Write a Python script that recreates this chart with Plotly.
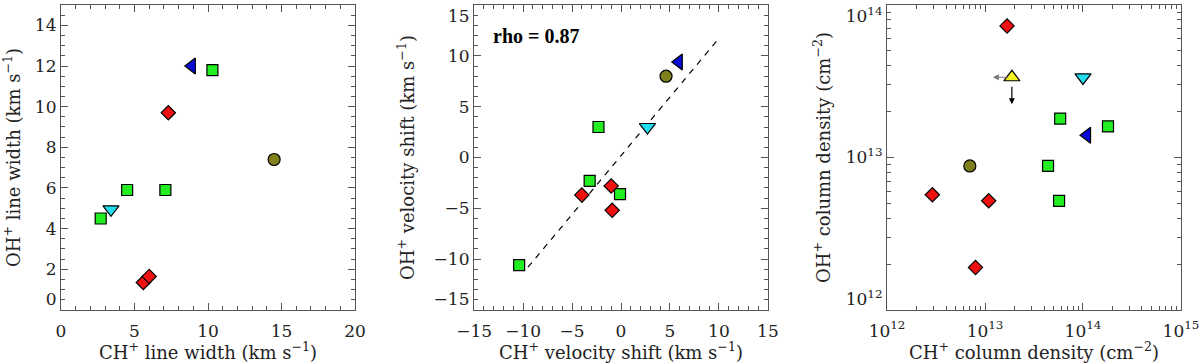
import math
import plotly.graph_objects as go

# ---- data ----
# panel 1: line widths (km/s)
w_sq_x = [2.7, 4.5, 7.1, 10.3]
w_sq_y = [4.5, 5.9, 5.9, 11.8]
w_dia_x = [5.6, 6.0, 7.3]
w_dia_y = [1.35, 1.65, 9.7]
w_blue_x = [8.9]
w_blue_y = [12.0]
w_cyan_x = [3.4]
w_cyan_y = [4.95]
w_olive_x = [14.5]
w_olive_y = [7.4]

# panel 2: velocity shifts (km/s)
v_sq_x = [-10.4, -2.3, -3.2, -0.1]
v_sq_y = [-10.6, 3.0, -2.3, -3.6]
v_dia_x = [-4.0, -1.0, -0.9]
v_dia_y = [-3.7, -2.8, -5.2]
v_blue_x = [5.9]
v_blue_y = [9.4]
v_cyan_x = [2.7]
v_cyan_y = [3.0]
v_olive_x = [4.6]
v_olive_y = [8.0]
fit_x = [-9.5, 9.8]
fit_y = [-10.8, 11.5]
rho_text = "rho = 0.87"

# panel 3: column densities (cm^-2)
n_sq_x = [5.85e13, 1.8e14, 4.4e13, 5.7e13]
n_sq_y = [1.8e13, 1.6e13, 8.8e12, 5.2e12]
n_dia_x = [1.68e13, 2.9e12, 1.09e13, 8.0e12]
n_dia_y = [7.3e13, 5.7e12, 5.2e12, 1.9e12]
n_blue_x = [1.1e14]
n_blue_y = [1.4e13]
n_cyan_x = [1.0e14]
n_cyan_y = [3.35e13]
n_olive_x = [7.0e12]
n_olive_y = [8.8e12]
n_lim_x = [1.88e13]
n_lim_y = [3.36e13]

# tick labels (end labels padded with an empty line so they sit inside the frame)
w_y_ticks = [0, 2, 4, 6, 8, 10, 12, 14]
w_y_text = ["0<br> ", "2", "4", "6", "8", "10", "12", "14"]
v_y_ticks = [-15, -10, -5, 0, 5, 10, 15]
v_y_text = ["−15<br> ", "−10", "−5", "0", "5", "10", "<br>15"]
log_x_ticks = [1e12, 1e13, 1e14, 1e15]
log_x_text = ["10<sup>12</sup>", "10<sup>13</sup>", "10<sup>14</sup>", "10<sup>15</sup>"]
log_y_ticks = [1e12, 1e13, 1e14]
log_y_text = ["10<sup>12</sup><br> ", "10<sup>13</sup>", "<br>10<sup>14</sup>"]

GREEN = "#22ee22"
RED = "#ee1111"
BLUE = "#0a0ad8"
CYAN = "#22ddee"
OLIVE = "#7f7f1c"
YELLOW = "#f4f420"

W, H = 1200, 363
FONT = "DejaVu Serif"

fig = go.Figure()


def mk(x, y, sym, color, size, ax):
    xa = "x" if ax == 1 else f"x{ax}"
    ya = "y" if ax == 1 else f"y{ax}"
    fig.add_trace(go.Scatter(
        x=x, y=y, mode="markers", xaxis=xa, yaxis=ya, showlegend=False,
        cliponaxis=False, hoverinfo="skip",
        marker=dict(symbol=sym, color=color, size=size,
                    line=dict(color="black", width=1.2)),
    ))


SQ, DIA, TRI, CIR = 11, 11, 14, 12

mk(w_sq_x, w_sq_y, "square", GREEN, SQ, 1)
mk(w_dia_x, w_dia_y, "diamond", RED, DIA, 1)
mk(w_blue_x, w_blue_y, "triangle-left", BLUE, TRI, 1)
mk(w_cyan_x, w_cyan_y, "triangle-down", CYAN, TRI, 1)
mk(w_olive_x, w_olive_y, "circle", OLIVE, CIR, 1)

fig.add_trace(go.Scatter(x=fit_x, y=fit_y, mode="lines", xaxis="x2", yaxis="y2",
                         showlegend=False, hoverinfo="skip",
                         line=dict(color="black", width=1.2, dash="6px,6px")))
mk(v_sq_x, v_sq_y, "square", GREEN, SQ, 2)
mk(v_dia_x, v_dia_y, "diamond", RED, DIA, 2)
mk(v_blue_x, v_blue_y, "triangle-left", BLUE, TRI, 2)
mk(v_cyan_x, v_cyan_y, "triangle-down", CYAN, TRI, 2)
mk(v_olive_x, v_olive_y, "circle", OLIVE, CIR, 2)

mk(n_sq_x, n_sq_y, "square", GREEN, SQ, 3)
mk(n_dia_x, n_dia_y, "diamond", RED, DIA, 3)
mk(n_blue_x, n_blue_y, "triangle-left", BLUE, TRI, 3)
mk(n_cyan_x, n_cyan_y, "triangle-down", CYAN, TRI, 3)
mk(n_olive_x, n_olive_y, "circle", OLIVE, CIR, 3)
mk(n_lim_x, n_lim_y, "triangle-up", YELLOW, TRI, 3)

# upper-limit arrows on the yellow point
for lx, ly in zip(n_lim_x, n_lim_y):
    fig.add_annotation(x=math.log10(lx), y=math.log10(ly), xref="x3", yref="y3",
                       text="", showarrow=True, xshift=-19, ax=17, ay=0,
                       arrowhead=2, arrowsize=1, arrowwidth=1.2, arrowcolor="#777777")
    fig.add_annotation(x=math.log10(lx), y=math.log10(ly), xref="x3", yref="y3",
                       text="", showarrow=True, yshift=-27, ax=0, ay=-19,
                       arrowhead=2, arrowsize=1, arrowwidth=1.2, arrowcolor="black")

fig.add_annotation(x=-13.3, y=12.0, xref="x2", yref="y2", text=rho_text,
                   showarrow=False, xanchor="left", yanchor="middle",
                   font=dict(family="Liberation Serif", size=20, color="black", weight="bold"))

# ---- axes ----
ydom = [1 - 310 / H, 1 - 5 / H]
panels = [(61, 355), (474, 768), (887, 1181)]

tickfont = dict(family=FONT, size=17, color="#222")
titlefont = dict(family=FONT, size=18, color="#222")
MINOR = dict(ticks="inside", ticklen=4, tickcolor="#555")


def axstyle(**kw):
    d = dict(showline=True, linecolor="#555", linewidth=1.2, mirror="ticks",
             ticks="inside", ticklen=7, tickcolor="#555", showgrid=False,
             zeroline=False, tickfont=tickfont, ticklabeloverflow="allow",
             automargin=False)
    d.update(kw)
    return d


layout = dict(
    width=W, height=H, margin=dict(l=0, r=0, t=0, b=0),
    paper_bgcolor="white", plot_bgcolor="white",
    font=dict(family=FONT, color="#222"),
)

XSTAND = 0

layout["xaxis"] = axstyle(domain=[panels[0][0] / W, panels[0][1] / W], range=[0, 20],
                          anchor="y", dtick=5, tick0=0, ticklabelstandoff=5,
                          minor=dict(MINOR, dtick=1),
                          title=dict(text="CH<sup>+</sup> line width (km s<sup>−1</sup>)",
                                     font=titlefont, standoff=XSTAND))
layout["yaxis"] = axstyle(domain=ydom, range=[-0.001, 15], anchor="x",
                          tickvals=w_y_ticks, ticktext=w_y_text,
                          minor=dict(MINOR, dtick=0.5, tick0=0),
                          title=dict(text="OH<sup>+</sup> line width (km s<sup>−1</sup>)",
                                     font=titlefont, standoff=14))

layout["xaxis2"] = axstyle(domain=[panels[1][0] / W, panels[1][1] / W], range=[-15.01, 15.01],
                           anchor="y2", dtick=5, tick0=0, ticklabelstandoff=5,
                           minor=dict(MINOR, dtick=1),
                           title=dict(text="CH<sup>+</sup> velocity shift (km s<sup>−1</sup>)",
                                      font=titlefont, standoff=XSTAND))
layout["yaxis2"] = axstyle(domain=ydom, range=[-15.01, 15.01], anchor="x2",
                           tickvals=v_y_ticks, ticktext=v_y_text,
                           minor=dict(MINOR, dtick=1, tick0=0),
                           title=dict(text="OH<sup>+</sup> velocity shift (km s<sup>−1</sup>)",
                                      font=titlefont, standoff=14))

layout["xaxis3"] = axstyle(domain=[panels[2][0] / W, panels[2][1] / W], type="log",
                           range=[11.9995, 15.0005], anchor="y3", ticklabelstandoff=5,
                           tickvals=log_x_ticks, ticktext=log_x_text,
                           minor=dict(MINOR, dtick="D1"),
                           title=dict(text="CH<sup>+</sup> column density (cm<sup>−2</sup>)",
                                      font=titlefont, standoff=XSTAND))
layout["yaxis3"] = axstyle(domain=ydom, type="log", range=[11.9995, 14.0005], anchor="x3",
                           tickvals=log_y_ticks, ticktext=log_y_text,
                           minor=dict(MINOR, dtick="D1"),
                           title=dict(text="OH<sup>+</sup> column density (cm<sup>−2</sup>)",
                                      font=titlefont, standoff=10))

fig.update_layout(**layout)
# the page's default body margin would shift the fixed-size figure
fig.write_html("out.html", config={"displayModeBar": False},
               post_script="document.body.style.margin='0';")
